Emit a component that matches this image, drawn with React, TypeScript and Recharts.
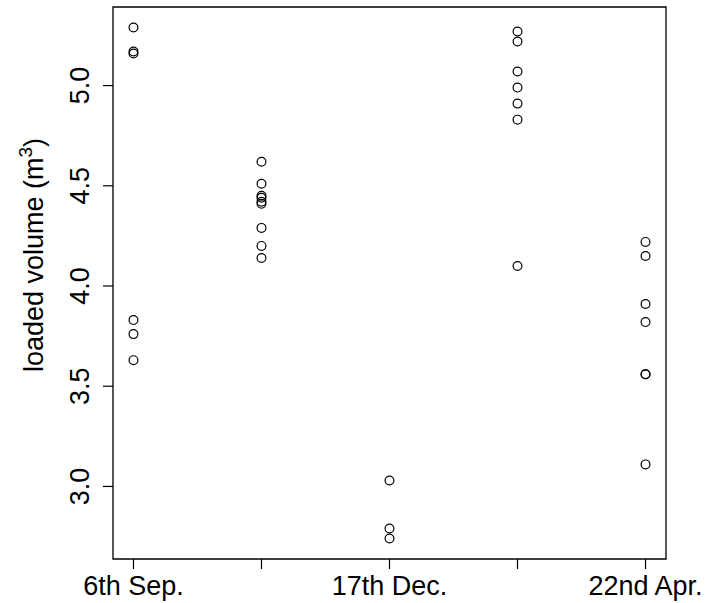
import { ScatterChart, Scatter, XAxis, YAxis, ReferenceArea } from 'recharts';

// loaded volume (m3) per sampling date
const tickLabels = ['6th Sep.', '', '17th Dec.', '', '22nd Apr.'];
const sep6 = [5.29, 5.17, 5.16, 3.83, 3.76, 3.63];
const group2 = [4.62, 4.51, 4.45, 4.44, 4.42, 4.41, 4.29, 4.2, 4.14];
const dec17 = [3.03, 2.79, 2.74];
const group4 = [5.27, 5.22, 5.07, 4.99, 4.91, 4.83, 4.1];
const apr22 = [4.22, 4.15, 3.91, 3.82, 3.56, 3.56, 3.11];
const yTicks = [3.0, 3.5, 4.0, 4.5, 5.0];

const groups = [sep6, group2, dec17, group4, apr22];
const points = groups.flatMap((vals, i) => vals.map((v) => ({ x: i + 1, y: v })));

const X_DOMAIN: [number, number] = [0.84, 5.16];
const Y_DOMAIN: [number, number] = [2.638, 5.392];
const FONT = '"Liberation Sans", Arial, sans-serif';

const XTick = (props: any) => {
  const { x, y, payload } = props;
  const label = tickLabels[payload.value - 1];
  return (
    <text x={x} y={y} dy={26} textAnchor="middle" fontSize={27} fontFamily={FONT} fill="#000">
      {label}
    </text>
  );
};

const YTick = (props: any) => {
  const { x, y, payload } = props;
  return (
    <text
      x={x}
      y={y}
      transform={`rotate(-90, ${x}, ${y})`}
      textAnchor="middle"
      fontSize={27}
      fontFamily={FONT}
      fill="#000"
    >
      {payload.value.toFixed(1)}
    </text>
  );
};

const Ring = (props: any) => (
  <circle cx={props.cx} cy={props.cy} r={4.4} fill="none" stroke="#000" strokeWidth={1.2} />
);

const YTitle = () => (
  <text
    x={43}
    y={255}
    transform="rotate(-90, 43, 255)"
    textAnchor="middle"
    fontSize={27}
    fontFamily={FONT}
    fill="#000"
  >
    loaded volume (m
    <tspan dy={-11} fontSize={19}>3</tspan>
    <tspan dy={11}>)</tspan>
  </text>
);

export default function App() {
  return (
    <div style={{ position: 'absolute', left: 0, top: 0, background: '#fff' }}>
      <ScatterChart width={706} height={603} margin={{ top: 7, right: 40, bottom: 0, left: 0 }}>
        <XAxis
          type="number"
          dataKey="x"
          domain={X_DOMAIN}
          ticks={[1, 2, 3, 4, 5]}
          allowDataOverflow
          axisLine={false}
          tickLine={{ stroke: '#000', strokeWidth: 1.2 }}
          tickSize={10}
          tickMargin={0}
          height={44}
          tick={<XTick />}
        />
        <YAxis
          type="number"
          dataKey="y"
          domain={Y_DOMAIN}
          ticks={yTicks}
          allowDataOverflow
          axisLine={false}
          tickLine={{ stroke: '#000', strokeWidth: 1.2 }}
          tickSize={10}
          tickMargin={14}
          width={113}
          tick={<YTick />}
          label={{ content: <YTitle /> }}
        />
        <ReferenceArea
          x1={X_DOMAIN[0]}
          x2={X_DOMAIN[1]}
          y1={Y_DOMAIN[0]}
          y2={Y_DOMAIN[1]}
          fill="none"
          stroke="#000"
          strokeWidth={1.3}
        />
        <Scatter data={points} shape={<Ring />} isAnimationActive={false} />
      </ScatterChart>
    </div>
  );
}
